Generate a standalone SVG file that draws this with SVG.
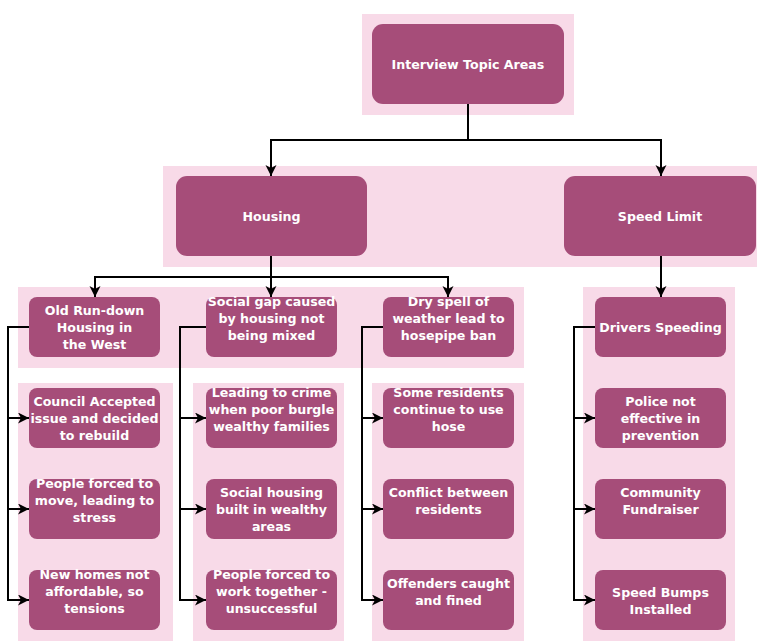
<svg xmlns="http://www.w3.org/2000/svg" width="759" height="641" viewBox="0 0 759 641">
<style>
.bg{fill:#f8dae8}
.n{fill:#a64d79}
.t{fill:#ffffff;font-family:"DejaVu Sans","Verdana",sans-serif;font-weight:bold;font-size:12.6px;text-anchor:middle;dominant-baseline:central}
.c{fill:none;stroke:#000;stroke-width:2;marker-end:url(#ah)}
</style>
<defs>
<marker id="ah" markerUnits="userSpaceOnUse" markerWidth="12" markerHeight="12" refX="11" refY="5.5" orient="auto">
<path d="M0,0 L11,5.5 L0,11 L3,5.5 z" fill="#000"/>
</marker>
</defs>
<rect width="759" height="641" fill="#ffffff"/>
<g id="backgrounds">
<rect class="bg" x="362" y="14" width="212" height="101"/>
<rect class="bg" x="163" y="166" width="594" height="101"/>
<rect class="bg" x="18" y="287" width="506" height="81"/>
<rect class="bg" x="583" y="287" width="152" height="354"/>
<rect class="bg" x="18" y="383" width="155" height="258"/>
<rect class="bg" x="193" y="383" width="151" height="258"/>
<rect class="bg" x="372" y="383" width="152" height="258"/>
</g>
<g id="connectors">
<path class="c" d="M468,104 V140 H271 V176"/>
<path class="c" d="M468,140 H661 V176"/>
<path class="c" d="M271,256 V277 H95 V297"/>
<path class="c" d="M271,256 V297"/>
<path class="c" d="M271,277 H448 V297"/>
<path class="c" d="M661,256 V297"/>
<path class="c" d="M29,327 H8 V418 H29"/>
<path class="c" d="M8,418 V509 H29"/>
<path class="c" d="M8,509 V600 H29"/>
<path class="c" d="M206,327 H180 V418 H206"/>
<path class="c" d="M180,418 V509 H206"/>
<path class="c" d="M180,509 V600 H206"/>
<path class="c" d="M383,327 H362 V418 H383"/>
<path class="c" d="M362,418 V509 H383"/>
<path class="c" d="M362,509 V600 H383"/>
<path class="c" d="M595,327 H574 V418 H595"/>
<path class="c" d="M574,418 V509 H595"/>
<path class="c" d="M574,509 V600 H595"/>
</g>
<g id="root"><rect class="n" x="372" y="24" width="192" height="80" rx="11"/><text class="t" x="468" y="64">Interview Topic Areas</text></g>
<g id="housing"><rect class="n" x="176" y="176" width="191" height="80" rx="11"/><text class="t" x="271.5" y="216.5">Housing</text></g>
<g id="speed"><rect class="n" x="564" y="176" width="192" height="80" rx="11"/><text class="t" x="660" y="216">Speed Limit</text></g>

<g id="oldhousing"><rect class="n" x="29" y="297" width="131" height="60" rx="8"/><text class="t" x="94.5" y="310">Old Run-down</text><text class="t" x="94.5" y="327">Housing in</text><text class="t" x="94.5" y="344">the West</text></g>
<g id="socialgap"><rect class="n" x="206" y="297" width="131" height="60" rx="8"/><text class="t" x="271.5" y="301">Social gap caused</text><text class="t" x="271.5" y="318">by housing not</text><text class="t" x="271.5" y="335">being mixed</text></g>
<g id="dryspell"><rect class="n" x="383" y="297" width="131" height="60" rx="8"/><text class="t" x="448.5" y="301">Dry spell of</text><text class="t" x="448.5" y="318">weather lead to</text><text class="t" x="448.5" y="335">hosepipe ban</text></g>
<g id="drivers"><rect class="n" x="595" y="297" width="131" height="60" rx="8"/><text class="t" x="660.5" y="327">Drivers Speeding</text></g>

<g id="council"><rect class="n" x="29" y="388" width="131" height="60" rx="8"/><text class="t" x="94.5" y="401">Council Accepted</text><text class="t" x="94.5" y="418">issue and decided</text><text class="t" x="94.5" y="435">to rebuild</text></g>
<g id="forcedmove"><rect class="n" x="29" y="479" width="131" height="60" rx="8"/><text class="t" x="94.5" y="483">People forced to</text><text class="t" x="94.5" y="500">move, leading to</text><text class="t" x="94.5" y="517">stress</text></g>
<g id="newhomes"><rect class="n" x="29" y="570" width="131" height="60" rx="8"/><text class="t" x="94.5" y="574">New homes not</text><text class="t" x="94.5" y="591">affordable, so</text><text class="t" x="94.5" y="608">tensions</text></g>

<g id="crime"><rect class="n" x="206" y="388" width="131" height="60" rx="8"/><text class="t" x="271.5" y="392">Leading to crime</text><text class="t" x="271.5" y="409">when poor burgle</text><text class="t" x="271.5" y="426">wealthy families</text></g>
<g id="socialhousing"><rect class="n" x="206" y="479" width="131" height="60" rx="8"/><text class="t" x="271.5" y="492">Social housing</text><text class="t" x="271.5" y="509">built in wealthy</text><text class="t" x="271.5" y="526">areas</text></g>
<g id="worktogether"><rect class="n" x="206" y="570" width="131" height="60" rx="8"/><text class="t" x="271.5" y="574">People forced to</text><text class="t" x="271.5" y="591">work together -</text><text class="t" x="271.5" y="608">unsuccessful</text></g>

<g id="residents"><rect class="n" x="383" y="388" width="131" height="60" rx="8"/><text class="t" x="448.5" y="392">Some residents</text><text class="t" x="448.5" y="409">continue to use</text><text class="t" x="448.5" y="426">hose</text></g>
<g id="conflict"><rect class="n" x="383" y="479" width="131" height="60" rx="8"/><text class="t" x="448.5" y="492">Conflict between</text><text class="t" x="448.5" y="509">residents</text></g>
<g id="offenders"><rect class="n" x="383" y="570" width="131" height="60" rx="8"/><text class="t" x="448.5" y="583">Offenders caught</text><text class="t" x="448.5" y="600">and fined</text></g>

<g id="police"><rect class="n" x="595" y="388" width="131" height="60" rx="8"/><text class="t" x="660.5" y="401">Police not</text><text class="t" x="660.5" y="418">effective in</text><text class="t" x="660.5" y="435">prevention</text></g>
<g id="fundraiser"><rect class="n" x="595" y="479" width="131" height="60" rx="8"/><text class="t" x="660.5" y="492">Community</text><text class="t" x="660.5" y="509">Fundraiser</text></g>
<g id="bumps"><rect class="n" x="595" y="570" width="131" height="60" rx="8"/><text class="t" x="660.5" y="592">Speed Bumps</text><text class="t" x="660.5" y="609">Installed</text></g>
</svg>
